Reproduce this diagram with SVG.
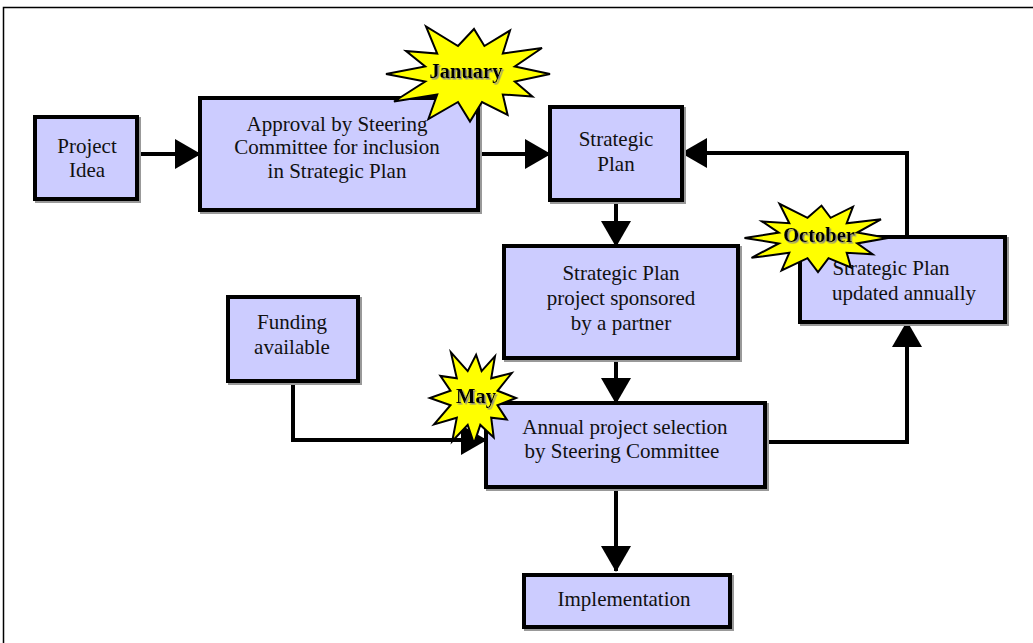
<svg xmlns="http://www.w3.org/2000/svg" width="1033" height="643" viewBox="0 0 1033 643">
<style>
.box rect{fill:#ccccff;stroke:#000;stroke-width:4;filter:url(#sh)}
.box text{font-family:"Liberation Serif",serif;font-size:21px;fill:#111;text-anchor:middle}
.conn path{fill:none;stroke:#000;stroke-width:4}
.star polygon{fill:#ffff00;stroke:#000;stroke-width:2;stroke-linejoin:miter}
.star text{font-family:"Liberation Serif",serif;font-weight:bold;font-size:20.5px;fill:#000;text-anchor:middle;filter:url(#tsh)}
</style>
<defs>
<filter id="sh" x="-5%" y="-5%" width="115%" height="120%"><feDropShadow dx="2" dy="2" stdDeviation="0.4" flood-color="#999"/></filter>
<filter id="tsh" x="-5%" y="-10%" width="115%" height="130%"><feDropShadow dx="1.5" dy="1.5" stdDeviation="0.5" flood-color="#888"/></filter>
<marker id="ah" markerUnits="userSpaceOnUse" markerWidth="26" markerHeight="30" refX="25" refY="15" orient="auto"><path d="M0,0 L26,15 L0,30 Z" fill="#000"/></marker>
</defs>
<rect width="1033" height="643" fill="#fff"/>
<path d="M3.5,643 V7.5 H1033" fill="none" stroke="#000" stroke-width="1.5"/>
<g id="connectors" class="conn">
<path d="M137,154 H200" marker-end="url(#ah)"/>
<path d="M478,154 H550" marker-end="url(#ah)"/>
<path d="M907,237 V153 H682" marker-end="url(#ah)"/>
<path d="M616,200 V246" marker-end="url(#ah)"/>
<path d="M616,358 V403" marker-end="url(#ah)"/>
<path d="M765,442 H907 V322" marker-end="url(#ah)"/>
<path d="M616,487 V571" marker-end="url(#ah)"/>
<path d="M293,381 V440 H486" marker-end="url(#ah)"/>
</g>
<g id="project-idea" class="box"><rect x="35" y="117" width="102" height="82"/><text x="87" y="153">Project</text><text x="87" y="177">Idea</text></g>
<g id="approval" class="box"><rect x="200" y="98" width="278" height="112"/><text x="337" y="131">Approval by Steering</text><text x="337" y="154">Committee for inclusion</text><text x="337" y="178">in Strategic Plan</text></g>
<g id="strategic-plan" class="box"><rect x="550" y="107" width="132" height="93"/><text x="616" y="146">Strategic</text><text x="616" y="171">Plan</text></g>
<g id="sponsored" class="box"><rect x="504" y="246" width="234" height="112"/><text x="621" y="280">Strategic Plan</text><text x="621" y="305">project sponsored</text><text x="621" y="330">by a partner</text></g>
<g id="updated" class="box"><rect x="800" y="237" width="205" height="85"/><text x="891" y="275">Strategic Plan</text><text x="904" y="300">updated annually</text></g>
<g id="funding" class="box"><rect x="228" y="297" width="130" height="84"/><text x="292" y="329">Funding</text><text x="292" y="354">available</text></g>
<g id="annual" class="box"><rect x="486" y="403" width="279" height="84"/><text x="625" y="434">Annual project selection</text><text x="622" y="458">by Steering Committee</text></g>
<g id="implementation" class="box"><rect x="524" y="575" width="206" height="52"/><text x="624" y="606">Implementation</text></g>
<g id="star-january" class="star"><polygon points="550,74 514.8,81.5 532.4,96.5 502.8,94.5 507.6,115 482,102 470,121.5 458,102 428.4,119 437.2,94.5 394,101.5 425.2,81.5 386,74 425.2,66.5 406,51 437.2,53.5 426,26.5 458,46 474,29 484.4,46 510,30.5 502.8,53.5 542,48 514.8,66.5"/><text x="466" y="78">January</text></g>
<g id="star-october" class="star"><polygon points="888,238 857.2,243.4 872.6,254.2 846.7,252.8 850.9,267.5 828.5,258.2 818,272.2 807.5,258.2 781.6,270.4 789.3,252.8 751.5,257.8 778.8,243.4 744.5,238 778.8,232.6 762,221.4 789.3,223.2 779.5,203.8 807.5,217.8 821.5,205.6 830.6,217.8 853,206.7 846.7,223.2 881,219.3 857.2,232.6"/><text x="819" y="242">October</text></g>
<g id="star-may" class="star"><polygon points="516,398 497.5,405.2 506.8,419.6 491.2,417.7 493.7,437.4 480.3,424.9 474,443.6 467.7,424.9 452.2,441.2 456.8,417.7 434.1,424.4 450.5,405.2 429.9,398 450.5,390.8 440.4,375.9 456.8,378.3 450.9,352.4 467.7,371.1 476.1,354.8 481.6,371.1 495,356.2 491.2,378.3 511.8,373 497.5,390.8"/><text x="476" y="403">May</text></g>
</svg>
